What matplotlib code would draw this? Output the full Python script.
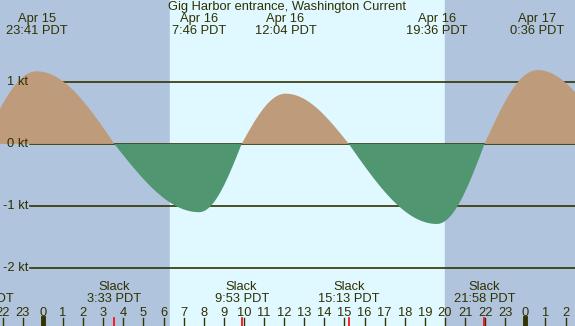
import numpy as np
import matplotlib
matplotlib.use("Agg")
import matplotlib.pyplot as plt
import matplotlib.transforms as mtransforms

plt.rcParams['font.family'] = ['Liberation Sans', 'DejaVu Sans']

# hours from Apr 16 00:00 PDT
event_hours = [-3.0, -0.317, 3.55, 7.767, 9.883, 12.067, 15.217, 19.6, 21.967, 24.6, 28.3]
event_speeds = [0.0, 1.17, 0.0, -1.10, 0.0, 0.81, 0.0, -1.29, 0.0, 1.19, 0.0]
event_dates = ['Apr 15', 'Apr 15', 'Apr 16', 'Apr 16', 'Apr 16', 'Apr 16', 'Apr 16', 'Apr 16', 'Apr 16', 'Apr 17', 'Apr 17']
event_times = ['21:00 PDT', '23:41 PDT', '3:33 PDT', '7:46 PDT', '9:53 PDT', '12:04 PDT',
               '15:13 PDT', '19:36 PDT', '21:58 PDT', '0:36 PDT', '4:18 PDT']

sunrise = 6.32
sunset = 20.0
kt_levels = [1, 0, -1, -2]
hour_ticks = list(range(-2, 27))

title = 'Gig Harbor entrance, Washington Current'
txt = '#303000'
line_col = '#333300'
night = '#b0c4de'
day = '#e0f8ff'
flood = '#be9b7a'
ebb = '#509670'

x0, x1 = -2.14, 26.47
y0, y1 = -2.935, 2.32
fs = 9.3


# smooth curve through the slack / max events (quarter-sine between each pair)
def curve(t):
    v = np.zeros_like(t)
    for i in range(len(event_hours) - 1):
        ta, tb = event_hours[i], event_hours[i + 1]
        va, vb = event_speeds[i], event_speeds[i + 1]
        m = (t >= ta) & (t <= tb)
        s = (t[m] - ta) / (tb - ta)
        if va == 0:
            v[m] = vb * np.sin(np.pi / 2 * s)
        else:
            v[m] = va * np.cos(np.pi / 2 * s)
    return v


fig = plt.figure(figsize=(5.75, 3.26), dpi=100)
ax = fig.add_axes([0, 0, 1, 1])
ax.set_xlim(x0, x1)
ax.set_ylim(y0, y1)
ax.axis('off')

# day / night background
ax.axvspan(x0, sunrise, color=night, zorder=0)
ax.axvspan(sunrise, sunset, color=day, zorder=0)
ax.axvspan(sunset, x1, color=night, zorder=0)

# speed lines and labels
px = (x1 - x0) / 575.0
for k in kt_levels:
    ax.plot([x0 + 30 * px, x1], [k, k], color=line_col, lw=1.2, zorder=1)
    ax.text(x0 + 28 * px, k, '%d kt' % k, ha='right', va='center', fontsize=fs, color=txt, zorder=3)

t = np.linspace(x0, x1, 2000)
v = curve(t)
ax.fill_between(t, 0, v, where=v >= 0, color=flood, lw=0, zorder=2, interpolate=True)
ax.fill_between(t, 0, v, where=v <= 0, color=ebb, lw=0, zorder=2, interpolate=True)

trans = mtransforms.blended_transform_factory(ax.transData, ax.transAxes)

ax.text(0.5, 0.979, title, transform=ax.transAxes, ha='center', va='center', fontsize=fs, color=txt)

for h, s, d, tm in zip(event_hours, event_speeds, event_dates, event_times):
    if h > x1:
        continue
    if s == 0:
        ax.text(h, 0.12, 'Slack', transform=trans, ha='center', va='center', fontsize=fs, color=txt)
        ax.text(h, 0.083, tm, transform=trans, ha='center', va='center', fontsize=fs, color=txt)
        ax.plot([h, h], [0, 0.0245], transform=trans, color='red', lw=1.2, zorder=4)
    else:
        ax.text(h, 0.942, d, transform=trans, ha='center', va='center', fontsize=fs, color=txt)
        ax.text(h, 0.905, tm, transform=trans, ha='center', va='center', fontsize=fs, color=txt)

# hour ticks along the bottom
for h in hour_ticks:
    ax.text(h, 0.04, str(h % 24), transform=trans, ha='center', va='center', fontsize=fs, color=txt)
    lw = 3.5 if h % 24 == 0 else 1.0
    ax.plot([h, h], [0, 0.0245], transform=trans, color=line_col, lw=lw, zorder=3)

fig.savefig('out.png', dpi=100)
